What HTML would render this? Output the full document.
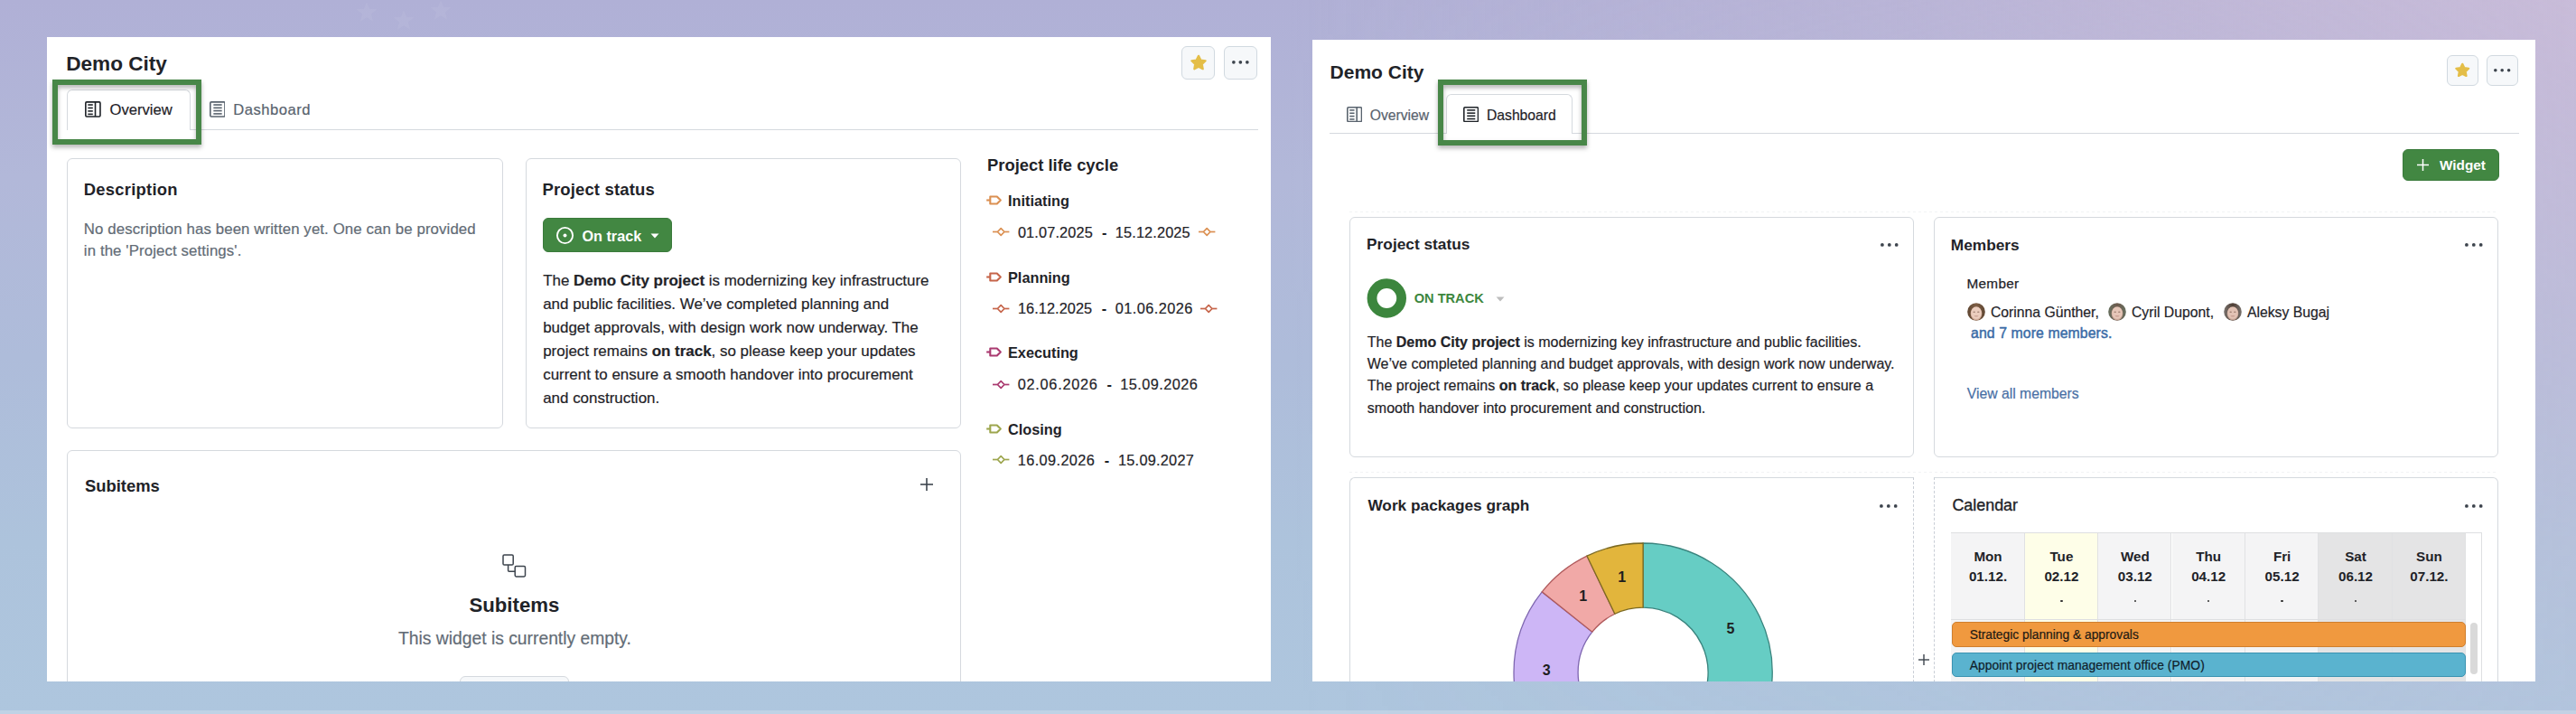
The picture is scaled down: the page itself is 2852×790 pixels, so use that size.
<!DOCTYPE html>
<html><head><meta charset="utf-8"><title>Demo City</title>
<style>
html,body{margin:0;padding:0;}
body{width:2852px;height:790px;overflow:hidden;position:relative;font-family:"Liberation Sans",sans-serif;}
.r{position:absolute;}
.t{position:absolute;white-space:nowrap;font-family:"Liberation Sans",sans-serif;}
b{font-weight:700;}
</style></head><body>
<div class="r" style="left:0;top:0;width:2852px;height:790px;background:linear-gradient(180deg,rgb(176,176,214) 0%,rgb(178,184,217) 25%,rgb(174,188,218) 50%,rgb(173,195,220) 76%,rgb(174,198,222) 100%);"></div><div class="r" style="left:0;top:0;width:2852px;height:790px;background:linear-gradient(90deg,rgba(205,190,217,0) 50%,rgba(205,190,217,0.4) 74%,rgba(205,190,217,1) 100%);-webkit-mask-image:linear-gradient(180deg,rgba(0,0,0,0.83) 0%,rgba(0,0,0,0.6) 25%,rgba(0,0,0,0.28) 76%,rgba(0,0,0,0.15) 100%);"></div>
<svg class="r" style="left:394px;top:1.5999999999999996px;" width="24" height="24" viewBox="0 0 24 24"><polygon points="12.00,0.00 15.06,7.79 23.41,8.29 16.95,13.61 19.05,21.71 12.00,17.20 4.95,21.71 7.05,13.61 0.59,8.29 8.94,7.79" fill="#fff" opacity="0.06"/></svg>
<svg class="r" style="left:434.7px;top:11px;" width="24" height="24" viewBox="0 0 24 24"><polygon points="12.00,0.00 15.06,7.79 23.41,8.29 16.95,13.61 19.05,21.71 12.00,17.20 4.95,21.71 7.05,13.61 0.59,8.29 8.94,7.79" fill="#fff" opacity="0.06"/></svg>
<svg class="r" style="left:475.5px;top:0px;" width="24" height="24" viewBox="0 0 24 24"><polygon points="12.00,0.00 15.06,7.79 23.41,8.29 16.95,13.61 19.05,21.71 12.00,17.20 4.95,21.71 7.05,13.61 0.59,8.29 8.94,7.79" fill="#fff" opacity="0.06"/></svg>
<div class="r" style="left:52px;top:41px;width:1355px;height:713px;background:#fff;"></div>
<div class="t" style="left:73.20px;top:59.97px;font-size:22.6px;line-height:22.6px;font-weight:700;color:#1F2328;">Demo City</div>
<div class="r" style="left:1308px;top:51px;width:37px;height:37px;background:#F6F8FA;border:1px solid #D1D9E0;border-radius:6px;box-sizing:border-box;"></div>
<svg class="r" style="left:1317.5px;top:59.599999999999994px;" width="18" height="18" viewBox="0 0 18 18"><polygon points="9.00,1.80 11.35,6.56 16.61,7.33 12.80,11.04 13.70,16.27 9.00,13.80 4.30,16.27 5.20,11.04 1.39,7.33 6.65,6.56" fill="#E4BE48" stroke="#E4BE48" stroke-width="2.2" stroke-linejoin="round"/></svg>
<div class="r" style="left:1355px;top:51px;width:37px;height:37px;background:#F6F8FA;border:1px solid #D1D9E0;border-radius:6px;box-sizing:border-box;"></div>
<svg class="r" style="left:1363.15px;top:65.95px;" width="20.7" height="5.7" viewBox="0 0 20.7 5.7"><circle cx="2.85" cy="2.85" r="1.85" fill="#3D444D"/><circle cx="10.35" cy="2.85" r="1.85" fill="#3D444D"/><circle cx="17.85" cy="2.85" r="1.85" fill="#3D444D"/></svg>
<div class="r" style="left:211px;top:143px;width:1182px;height:1px;background:#D5D9DE;"></div>
<div class="r" style="left:74px;top:99px;width:137px;height:45px;background:#fff;border:1px solid #D5D9DE;border-bottom:none;border-radius:6px 6px 0 0;box-sizing:border-box;"></div>
<svg class="r" style="left:93.9px;top:112.3px;" width="17.8" height="17.8" viewBox="0 0 17.8 17.8"><g fill="none" stroke="#1F2328" stroke-width="1.45" transform="scale(1.1125)"><rect x="0.75" y="0.75" width="14.5" height="14.5" rx="1"/><line x1="10.35" y1="0.75" x2="10.35" y2="15.25"/><line x1="3" y1="3.6" x2="7.9" y2="3.6"/><line x1="3" y1="6.7" x2="7.9" y2="6.7"/><line x1="3" y1="9.8" x2="7.9" y2="9.8"/><line x1="3" y1="12.9" x2="7.9" y2="12.9"/></g></svg>
<div class="t" style="left:121.60px;top:114.05px;font-size:16.6px;line-height:16.6px;font-weight:400;color:#1F2328;-webkit-text-stroke:0.2px #1F2328;">Overview</div>
<svg class="r" style="left:231.6px;top:112.2px;" width="17.8" height="17.8" viewBox="0 0 17.8 17.8"><g fill="none" stroke="#59636E" stroke-width="1.45" transform="scale(1.1125)"><rect x="0.75" y="0.75" width="14.5" height="14.5" rx="1"/><line x1="3.9" y1="3.6" x2="12.3" y2="3.6"/><line x1="3.9" y1="6.6" x2="12.3" y2="6.6"/><line x1="3.9" y1="9.5" x2="12.3" y2="9.5"/><line x1="3.9" y1="12.5" x2="12.3" y2="12.5"/></g></svg>
<div class="t" style="left:258.30px;top:114.05px;font-size:16.6px;line-height:16.6px;font-weight:400;color:#59636E;-webkit-text-stroke:0.2px #59636E;letter-spacing:0.5px;">Dashboard</div>
<div class="r" style="left:58px;top:88px;width:165px;height:72px;box-sizing:border-box;border:6px solid #488748;filter:drop-shadow(0.5px 3px 2.5px rgba(0,0,0,0.3));"></div>
<div class="r" style="left:74px;top:175px;width:483px;height:299px;border:1px solid #D5D9DE;border-radius:6px;box-sizing:border-box;"></div>
<div class="t" style="left:92.80px;top:201.32px;font-size:18.4px;line-height:18.4px;font-weight:700;color:#1F2328;letter-spacing:0.25px;">Description</div>
<div class="t" style="left:92.80px;top:245.88px;font-size:16.8px;line-height:16.8px;font-weight:400;color:#636C76;-webkit-text-stroke:0.2px #636C76;letter-spacing:0.12px;">No description has been written yet. One can be provided</div>
<div class="t" style="left:92.80px;top:270.08px;font-size:16.8px;line-height:16.8px;font-weight:400;color:#636C76;-webkit-text-stroke:0.2px #636C76;letter-spacing:0.12px;">in the 'Project settings'.</div>
<div class="r" style="left:582px;top:175px;width:482px;height:299px;border:1px solid #D5D9DE;border-radius:6px;box-sizing:border-box;"></div>
<div class="t" style="left:600.40px;top:201.04px;font-size:18.5px;line-height:18.5px;font-weight:700;color:#1F2328;letter-spacing:0.15px;">Project status</div>
<div class="r" style="left:601px;top:241px;width:143px;height:38px;background:#428742;border:1px solid #3A7A3B;border-radius:6px;box-sizing:border-box;"></div>
<svg class="r" style="left:615px;top:250px;" width="21" height="21" viewBox="0 0 21 21"><circle cx="10.5" cy="10.5" r="8.6" fill="none" stroke="#fff" stroke-width="1.9"/><circle cx="10.5" cy="10.5" r="2" fill="#fff"/></svg>
<div class="t" style="left:644.50px;top:252.99px;font-size:16.2px;line-height:16.2px;font-weight:700;color:#fff;">On track</div>
<svg class="r" style="left:719.5px;top:257.5px;" width="10" height="6" viewBox="0 0 10 6"><path d="M0.5 0.5 L9.5 0.5 L5 5.5 Z" fill="#fff"/></svg>
<div class="t" style="left:601.20px;top:303.05px;font-size:16.95px;line-height:16.95px;font-weight:400;color:#1F2328;-webkit-text-stroke:0.2px #1F2328;">The <b>Demo City project</b> is modernizing key infrastructure</div>
<div class="t" style="left:601.20px;top:329.13px;font-size:16.95px;line-height:16.95px;font-weight:400;color:#1F2328;-webkit-text-stroke:0.2px #1F2328;">and public facilities. We’ve completed planning and</div>
<div class="t" style="left:601.20px;top:355.21px;font-size:16.95px;line-height:16.95px;font-weight:400;color:#1F2328;-webkit-text-stroke:0.2px #1F2328;">budget approvals, with design work now underway. The</div>
<div class="t" style="left:601.20px;top:381.29px;font-size:16.95px;line-height:16.95px;font-weight:400;color:#1F2328;-webkit-text-stroke:0.2px #1F2328;">project remains <b>on track</b>, so please keep your updates</div>
<div class="t" style="left:601.20px;top:407.37px;font-size:16.95px;line-height:16.95px;font-weight:400;color:#1F2328;-webkit-text-stroke:0.2px #1F2328;">current to ensure a smooth handover into procurement</div>
<div class="t" style="left:601.20px;top:433.45px;font-size:16.95px;line-height:16.95px;font-weight:400;color:#1F2328;-webkit-text-stroke:0.2px #1F2328;">and construction.</div>
<div class="t" style="left:1093.00px;top:173.82px;font-size:18.4px;line-height:18.4px;font-weight:700;color:#1F2328;">Project life cycle</div>
<svg class="r" style="left:1092.2px;top:216.2px;" width="20" height="11" viewBox="0 0 20 11"><g fill="none" stroke="#DB9052" stroke-width="2.1" stroke-linejoin="round"><line x1="0.2" y1="5.5" x2="4.3" y2="5.5"/><path d="M4.3 1.5 H11.8 L15.8 5.5 L11.8 9.5 H4.3 Z"/></g></svg>
<div class="t" style="left:1116.00px;top:214.20px;font-size:16.3px;line-height:16.3px;font-weight:700;color:#1F2328;">Initiating</div>
<svg class="r" style="left:1098.8px;top:251.40000000000003px;" width="19" height="11" viewBox="0 0 19 11"><g fill="none" stroke="#DB9052" stroke-width="1.7"><line x1="0" y1="5.5" x2="5.2" y2="5.5"/><line x1="13.2" y1="5.5" x2="18.4" y2="5.5"/><path d="M9.2 1.7 L13 5.5 L9.2 9.3 L5.4 5.5 Z" stroke-linejoin="round"/></g></svg>
<div class="t" style="left:1126.90px;top:248.80px;font-size:16.3px;line-height:16.3px;font-weight:400;color:#1F2328;-webkit-text-stroke:0.2px #1F2328;letter-spacing:0.15px;">01.07.2025</div>
<div class="t" style="left:1220.10px;top:248.80px;font-size:16.3px;line-height:16.3px;font-weight:700;color:#1F2328;">-</div>
<div class="t" style="left:1234.80px;top:248.80px;font-size:16.3px;line-height:16.3px;font-weight:400;color:#1F2328;-webkit-text-stroke:0.2px #1F2328;letter-spacing:0.15px;">15.12.2025</div>
<svg class="r" style="left:1326.6px;top:251.40000000000003px;" width="19" height="11" viewBox="0 0 19 11"><g fill="none" stroke="#DB9052" stroke-width="1.7"><line x1="0" y1="5.5" x2="5.2" y2="5.5"/><line x1="13.2" y1="5.5" x2="18.4" y2="5.5"/><path d="M9.2 1.7 L13 5.5 L9.2 9.3 L5.4 5.5 Z" stroke-linejoin="round"/></g></svg>
<svg class="r" style="left:1092.2px;top:300.9px;" width="20" height="11" viewBox="0 0 20 11"><g fill="none" stroke="#C6654A" stroke-width="2.1" stroke-linejoin="round"><line x1="0.2" y1="5.5" x2="4.3" y2="5.5"/><path d="M4.3 1.5 H11.8 L15.8 5.5 L11.8 9.5 H4.3 Z"/></g></svg>
<div class="t" style="left:1116.00px;top:298.90px;font-size:16.3px;line-height:16.3px;font-weight:700;color:#1F2328;">Planning</div>
<svg class="r" style="left:1098.8px;top:335.5px;" width="19" height="11" viewBox="0 0 19 11"><g fill="none" stroke="#C6654A" stroke-width="1.7"><line x1="0" y1="5.5" x2="5.2" y2="5.5"/><line x1="13.2" y1="5.5" x2="18.4" y2="5.5"/><path d="M9.2 1.7 L13 5.5 L9.2 9.3 L5.4 5.5 Z" stroke-linejoin="round"/></g></svg>
<div class="t" style="left:1126.90px;top:332.90px;font-size:16.3px;line-height:16.3px;font-weight:400;color:#1F2328;-webkit-text-stroke:0.2px #1F2328;letter-spacing:0.08px;">16.12.2025</div>
<div class="t" style="left:1219.80px;top:332.90px;font-size:16.3px;line-height:16.3px;font-weight:700;color:#1F2328;">-</div>
<div class="t" style="left:1234.80px;top:332.90px;font-size:16.3px;line-height:16.3px;font-weight:400;color:#1F2328;-webkit-text-stroke:0.2px #1F2328;letter-spacing:0.45px;">01.06.2026</div>
<svg class="r" style="left:1329.4px;top:335.5px;" width="19" height="11" viewBox="0 0 19 11"><g fill="none" stroke="#C6654A" stroke-width="1.7"><line x1="0" y1="5.5" x2="5.2" y2="5.5"/><line x1="13.2" y1="5.5" x2="18.4" y2="5.5"/><path d="M9.2 1.7 L13 5.5 L9.2 9.3 L5.4 5.5 Z" stroke-linejoin="round"/></g></svg>
<svg class="r" style="left:1092.2px;top:384.4px;" width="20" height="11" viewBox="0 0 20 11"><g fill="none" stroke="#AA3A70" stroke-width="2.1" stroke-linejoin="round"><line x1="0.2" y1="5.5" x2="4.3" y2="5.5"/><path d="M4.3 1.5 H11.8 L15.8 5.5 L11.8 9.5 H4.3 Z"/></g></svg>
<div class="t" style="left:1116.00px;top:382.40px;font-size:16.3px;line-height:16.3px;font-weight:700;color:#1F2328;">Executing</div>
<svg class="r" style="left:1098.8px;top:419.6px;" width="19" height="11" viewBox="0 0 19 11"><g fill="none" stroke="#AA3A70" stroke-width="1.7"><line x1="0" y1="5.5" x2="5.2" y2="5.5"/><line x1="13.2" y1="5.5" x2="18.4" y2="5.5"/><path d="M9.2 1.7 L13 5.5 L9.2 9.3 L5.4 5.5 Z" stroke-linejoin="round"/></g></svg>
<div class="t" style="left:1126.80px;top:417.00px;font-size:16.3px;line-height:16.3px;font-weight:400;color:#1F2328;-webkit-text-stroke:0.2px #1F2328;letter-spacing:0.72px;">02.06.2026</div>
<div class="t" style="left:1225.40px;top:417.00px;font-size:16.3px;line-height:16.3px;font-weight:700;color:#1F2328;">-</div>
<div class="t" style="left:1240.20px;top:417.00px;font-size:16.3px;line-height:16.3px;font-weight:400;color:#1F2328;-webkit-text-stroke:0.2px #1F2328;letter-spacing:0.45px;">15.09.2026</div>
<svg class="r" style="left:1092.2px;top:468.5px;" width="20" height="11" viewBox="0 0 20 11"><g fill="none" stroke="#9DA64E" stroke-width="2.1" stroke-linejoin="round"><line x1="0.2" y1="5.5" x2="4.3" y2="5.5"/><path d="M4.3 1.5 H11.8 L15.8 5.5 L11.8 9.5 H4.3 Z"/></g></svg>
<div class="t" style="left:1116.00px;top:466.50px;font-size:16.3px;line-height:16.3px;font-weight:700;color:#1F2328;">Closing</div>
<svg class="r" style="left:1098.8px;top:503.1px;" width="19" height="11" viewBox="0 0 19 11"><g fill="none" stroke="#9DA64E" stroke-width="1.7"><line x1="0" y1="5.5" x2="5.2" y2="5.5"/><line x1="13.2" y1="5.5" x2="18.4" y2="5.5"/><path d="M9.2 1.7 L13 5.5 L9.2 9.3 L5.4 5.5 Z" stroke-linejoin="round"/></g></svg>
<div class="t" style="left:1126.80px;top:500.50px;font-size:16.3px;line-height:16.3px;font-weight:400;color:#1F2328;-webkit-text-stroke:0.2px #1F2328;letter-spacing:0.39px;">16.09.2026</div>
<div class="t" style="left:1222.70px;top:500.50px;font-size:16.3px;line-height:16.3px;font-weight:700;color:#1F2328;">-</div>
<div class="t" style="left:1238.00px;top:500.50px;font-size:16.3px;line-height:16.3px;font-weight:400;color:#1F2328;-webkit-text-stroke:0.2px #1F2328;letter-spacing:0.25px;">15.09.2027</div>
<div class="r" style="left:74px;top:498px;width:990px;height:272px;border:1px solid #D5D9DE;border-radius:6px;box-sizing:border-box;"></div>
<div class="t" style="left:94.00px;top:529.12px;font-size:18.4px;line-height:18.4px;font-weight:700;color:#1F2328;">Subitems</div>
<svg class="r" style="left:1018.8px;top:529.0px;" width="14" height="14" viewBox="0 0 14 14"><g stroke="#3D444D" stroke-width="1.6"><line x1="7.0" y1="0" x2="7.0" y2="14"/><line x1="0" y1="7.0" x2="14" y2="7.0"/></g></svg>
<svg class="r" style="left:556px;top:612.5px;" width="27" height="26" viewBox="0 0 27 26"><g fill="none" stroke="#3D444D" stroke-width="1.5"><rect x="1" y="0.9" width="11.2" height="11.2" rx="1.3"/><rect x="14.2" y="13.6" width="11.3" height="11.3" rx="1.3"/><path d="M6.6 12.1 V18.2 Q6.6 19.2 7.6 19.2 H14.2"/></g></svg>
<div class="t" style="left:419.40px;top:659.41px;font-size:22.2px;line-height:22.2px;font-weight:700;color:#1F2328;width:300px;text-align:center;">Subitems</div>
<div class="t" style="left:370.00px;top:697.16px;font-size:19.3px;line-height:19.3px;font-weight:400;color:#636C76;-webkit-text-stroke:0.2px #636C76;width:400px;text-align:center;">This widget is currently empty.</div>
<div class="r" style="left:509px;top:748px;width:121px;height:22px;background:#F6F8FA;border:1px solid #D5D9DE;border-radius:6px;box-sizing:border-box;"></div>
<div class="r" style="left:1453px;top:44px;width:1354px;height:710px;background:#fff;"></div>
<div class="t" style="left:1472.60px;top:69.22px;font-size:21px;line-height:21px;font-weight:700;color:#1F2328;">Demo City</div>
<div class="r" style="left:2709px;top:61px;width:35px;height:34px;background:#F6F8FA;border:1px solid #D1D9E0;border-radius:6px;box-sizing:border-box;"></div>
<svg class="r" style="left:2718.25px;top:68.85px;" width="16.5" height="16.5" viewBox="0 0 16.5 16.5"><polygon points="8.25,1.80 10.38,6.12 15.15,6.81 11.70,10.17 12.51,14.92 8.25,12.68 3.99,14.92 4.80,10.17 1.35,6.81 6.12,6.12" fill="#E4BE48" stroke="#E4BE48" stroke-width="2.2" stroke-linejoin="round"/></svg>
<div class="r" style="left:2753px;top:61px;width:35px;height:34px;background:#F6F8FA;border:1px solid #D1D9E0;border-radius:6px;box-sizing:border-box;"></div>
<svg class="r" style="left:2760.3px;top:74.5px;" width="20.400000000000002" height="5.6" viewBox="0 0 20.400000000000002 5.6"><circle cx="2.8" cy="2.8" r="1.8" fill="#3D444D"/><circle cx="10.2" cy="2.8" r="1.8" fill="#3D444D"/><circle cx="17.6" cy="2.8" r="1.8" fill="#3D444D"/></svg>
<div class="r" style="left:1472px;top:147px;width:1317px;height:1px;background:#D5D9DE;"></div>
<div class="r" style="left:1601px;top:104px;width:140px;height:44px;background:#fff;border:1px solid #D5D9DE;border-bottom:none;border-radius:6px 6px 0 0;box-sizing:border-box;"></div>
<svg class="r" style="left:1490.5px;top:117.8px;" width="17.3" height="17.3" viewBox="0 0 17.3 17.3"><g fill="none" stroke="#59636E" stroke-width="1.45" transform="scale(1.08125)"><rect x="0.75" y="0.75" width="14.5" height="14.5" rx="1"/><line x1="10.35" y1="0.75" x2="10.35" y2="15.25"/><line x1="3" y1="3.6" x2="7.9" y2="3.6"/><line x1="3" y1="6.7" x2="7.9" y2="6.7"/><line x1="3" y1="9.8" x2="7.9" y2="9.8"/><line x1="3" y1="12.9" x2="7.9" y2="12.9"/></g></svg>
<div class="t" style="left:1516.70px;top:119.71px;font-size:15.7px;line-height:15.7px;font-weight:400;color:#59636E;-webkit-text-stroke:0.2px #59636E;">Overview</div>
<svg class="r" style="left:1619.8px;top:118px;" width="17.3" height="17.3" viewBox="0 0 17.3 17.3"><g fill="none" stroke="#1F2328" stroke-width="1.45" transform="scale(1.08125)"><rect x="0.75" y="0.75" width="14.5" height="14.5" rx="1"/><line x1="3.9" y1="3.6" x2="12.3" y2="3.6"/><line x1="3.9" y1="6.6" x2="12.3" y2="6.6"/><line x1="3.9" y1="9.5" x2="12.3" y2="9.5"/><line x1="3.9" y1="12.5" x2="12.3" y2="12.5"/></g></svg>
<div class="t" style="left:1646.00px;top:119.71px;font-size:15.7px;line-height:15.7px;font-weight:400;color:#1F2328;-webkit-text-stroke:0.2px #1F2328;">Dashboard</div>
<div class="r" style="left:1592px;top:88px;width:165px;height:73px;box-sizing:border-box;border:6px solid #488748;filter:drop-shadow(0.5px 3px 2.5px rgba(0,0,0,0.3));"></div>
<div class="r" style="left:2660px;top:165px;width:107px;height:35px;background:#428742;border:1px solid #3A7A3B;border-radius:6px;box-sizing:border-box;"></div>
<svg class="r" style="left:2675.5px;top:176.0px;" width="13" height="13" viewBox="0 0 13 13"><g stroke="#fff" stroke-width="1.5"><line x1="6.5" y1="0" x2="6.5" y2="13"/><line x1="0" y1="6.5" x2="13" y2="6.5"/></g></svg>
<div class="t" style="left:2701.00px;top:174.85px;font-size:15.3px;line-height:15.3px;font-weight:700;color:#fff;">Widget</div>
<div class="r" style="left:1494px;top:233.5px;width:1272px;height:1.0px;background:repeating-linear-gradient(90deg,#F2F3F4 0 3px,transparent 3px 6px);"></div>
<div class="r" style="left:1494px;top:521.5px;width:1272px;height:1.0px;background:repeating-linear-gradient(90deg,#F2F3F4 0 3px,transparent 3px 6px);"></div>
<div class="r" style="left:1494px;top:240px;width:625px;height:266px;border:1px solid #D5D9DE;border-radius:6px;box-sizing:border-box;"></div>
<div class="t" style="left:1513.10px;top:262.46px;font-size:17.3px;line-height:17.3px;font-weight:700;color:#1F2328;">Project status</div>
<svg class="r" style="left:2080.5px;top:268.3px;" width="21.6" height="5.8" viewBox="0 0 21.6 5.8"><circle cx="2.9" cy="2.9" r="1.9" fill="#3D444D"/><circle cx="10.8" cy="2.9" r="1.9" fill="#3D444D"/><circle cx="18.7" cy="2.9" r="1.9" fill="#3D444D"/></svg>
<svg class="r" style="left:1513px;top:308px;" width="45" height="45" viewBox="0 0 45 45"><circle cx="22.3" cy="22" r="16.3" fill="none" stroke="#3C863D" stroke-width="10.8"/></svg>
<div class="t" style="left:1565.70px;top:322.64px;font-size:14.6px;line-height:14.6px;font-weight:700;color:#3C863D;">ON TRACK</div>
<svg class="r" style="left:1656px;top:327.5px;" width="10" height="6" viewBox="0 0 10 6"><path d="M0.5 0.5 L9.5 0.5 L5 5.5 Z" fill="#BDBDBD"/></svg>
<div class="t" style="left:1513.80px;top:370.86px;font-size:16px;line-height:16px;font-weight:400;color:#1F2328;-webkit-text-stroke:0.2px #1F2328;">The <b>Demo City project</b> is modernizing key infrastructure and public facilities.</div>
<div class="t" style="left:1513.80px;top:395.09px;font-size:16px;line-height:16px;font-weight:400;color:#1F2328;-webkit-text-stroke:0.2px #1F2328;">We’ve completed planning and budget approvals, with design work now underway.</div>
<div class="t" style="left:1513.80px;top:419.32px;font-size:16px;line-height:16px;font-weight:400;color:#1F2328;-webkit-text-stroke:0.2px #1F2328;">The project remains <b>on track</b>, so please keep your updates current to ensure a</div>
<div class="t" style="left:1513.80px;top:443.55px;font-size:16px;line-height:16px;font-weight:400;color:#1F2328;-webkit-text-stroke:0.2px #1F2328;">smooth handover into procurement and construction.</div>
<div class="r" style="left:2141px;top:240px;width:625px;height:266px;border:1px solid #D5D9DE;border-radius:6px;box-sizing:border-box;"></div>
<div class="t" style="left:2159.80px;top:262.96px;font-size:17.3px;line-height:17.3px;font-weight:700;color:#1F2328;">Members</div>
<svg class="r" style="left:2728.2px;top:268.3px;" width="21.6" height="5.8" viewBox="0 0 21.6 5.8"><circle cx="2.9" cy="2.9" r="1.9" fill="#3D444D"/><circle cx="10.8" cy="2.9" r="1.9" fill="#3D444D"/><circle cx="18.7" cy="2.9" r="1.9" fill="#3D444D"/></svg>
<div class="t" style="left:2177.50px;top:305.55px;font-size:15.3px;line-height:15.3px;font-weight:400;color:#1F2328;letter-spacing:0.3px;-webkit-text-stroke:0.25px #1F2328;">Member</div>
<svg class="r" style="left:2178.2px;top:335px;" width="20" height="20" viewBox="0 0 20 20"><defs><clipPath id="c2178"><circle cx="10" cy="10" r="9.8"/></clipPath><radialGradient id="g2178" cx="50%" cy="45%" r="55%"><stop offset="0%" stop-color="#EBCDBE"/><stop offset="75%" stop-color="#EBCDBE"/><stop offset="100%" stop-color="#C49A86"/></radialGradient><linearGradient id="h2178" x1="0" y1="0" x2="1" y2="0"><stop offset="0%" stop-color="#5E4632"/><stop offset="50%" stop-color="#7E5E45"/><stop offset="100%" stop-color="#5E4632"/></linearGradient></defs><g clip-path="url(#c2178)"><rect width="20" height="20" fill="url(#h2178)"/><ellipse cx="10" cy="11.8" rx="6.3" ry="7.6" fill="url(#g2178)"/><ellipse cx="7.7" cy="10.3" rx="1.3" ry="0.7" fill="#6B4A3E" opacity="0.55"/><ellipse cx="12.3" cy="10.3" rx="1.3" ry="0.7" fill="#6B4A3E" opacity="0.55"/><ellipse cx="10" cy="14.8" rx="2.6" ry="0.8" fill="#A87468" opacity="0.45"/></g></svg>
<div class="t" style="left:2203.90px;top:338.37px;font-size:15.75px;line-height:15.75px;font-weight:400;color:#1F2328;-webkit-text-stroke:0.2px #1F2328;">Corinna Günther,</div>
<svg class="r" style="left:2334.1px;top:335px;" width="20" height="20" viewBox="0 0 20 20"><defs><clipPath id="c2334"><circle cx="10" cy="10" r="9.8"/></clipPath><radialGradient id="g2334" cx="50%" cy="45%" r="55%"><stop offset="0%" stop-color="#E6C6B8"/><stop offset="75%" stop-color="#E6C6B8"/><stop offset="100%" stop-color="#B89484"/></radialGradient><linearGradient id="h2334" x1="0" y1="0" x2="1" y2="0"><stop offset="0%" stop-color="#66705F"/><stop offset="50%" stop-color="#6E5A4E"/><stop offset="100%" stop-color="#66705F"/></linearGradient></defs><g clip-path="url(#c2334)"><rect width="20" height="20" fill="url(#h2334)"/><ellipse cx="10" cy="11.8" rx="6.3" ry="7.6" fill="url(#g2334)"/><ellipse cx="7.7" cy="10.3" rx="1.3" ry="0.7" fill="#6B4A3E" opacity="0.55"/><ellipse cx="12.3" cy="10.3" rx="1.3" ry="0.7" fill="#6B4A3E" opacity="0.55"/><ellipse cx="10" cy="14.8" rx="2.6" ry="0.8" fill="#A87468" opacity="0.45"/></g></svg>
<div class="t" style="left:2360.00px;top:338.37px;font-size:15.75px;line-height:15.75px;font-weight:400;color:#1F2328;-webkit-text-stroke:0.2px #1F2328;">Cyril Dupont,</div>
<svg class="r" style="left:2461.8px;top:335px;" width="20" height="20" viewBox="0 0 20 20"><defs><clipPath id="c2461"><circle cx="10" cy="10" r="9.8"/></clipPath><radialGradient id="g2461" cx="50%" cy="45%" r="55%"><stop offset="0%" stop-color="#E2C2B4"/><stop offset="75%" stop-color="#E2C2B4"/><stop offset="100%" stop-color="#B08E80"/></radialGradient><linearGradient id="h2461" x1="0" y1="0" x2="1" y2="0"><stop offset="0%" stop-color="#7A7470"/><stop offset="50%" stop-color="#4E3E34"/><stop offset="100%" stop-color="#7A7470"/></linearGradient></defs><g clip-path="url(#c2461)"><rect width="20" height="20" fill="url(#h2461)"/><ellipse cx="10" cy="11.8" rx="6.3" ry="7.6" fill="url(#g2461)"/><ellipse cx="7.7" cy="10.3" rx="1.3" ry="0.7" fill="#6B4A3E" opacity="0.55"/><ellipse cx="12.3" cy="10.3" rx="1.3" ry="0.7" fill="#6B4A3E" opacity="0.55"/><ellipse cx="10" cy="14.8" rx="2.6" ry="0.8" fill="#A87468" opacity="0.45"/></g></svg>
<div class="t" style="left:2487.90px;top:338.37px;font-size:15.75px;line-height:15.75px;font-weight:400;color:#1F2328;-webkit-text-stroke:0.2px #1F2328;">Aleksy Bugaj</div>
<div class="t" style="left:2182.00px;top:361.43px;font-size:15.8px;line-height:15.8px;font-weight:400;color:#3A6BA6;letter-spacing:0.1px;-webkit-text-stroke:0.45px #3A6BA6;">and 7 more members.</div>
<div class="t" style="left:2177.70px;top:428.17px;font-size:15.75px;line-height:15.75px;font-weight:400;color:#4A70A5;-webkit-text-stroke:0.2px #4A70A5;">View all members</div>
<div class="r" style="left:1494px;top:528px;width:625px;height:262px;border:1px solid #D5D9DE;border-right:1px dashed #C9CED6;border-radius:6px 0 0 0;box-sizing:border-box;"></div>
<div class="t" style="left:1514.40px;top:551.40px;font-size:17.25px;line-height:17.25px;font-weight:700;color:#1F2328;">Work packages graph</div>
<svg class="r" style="left:2080.3999999999996px;top:556.9px;" width="21.6" height="5.8" viewBox="0 0 21.6 5.8"><circle cx="2.9" cy="2.9" r="1.9" fill="#3D444D"/><circle cx="10.8" cy="2.9" r="1.9" fill="#3D444D"/><circle cx="18.7" cy="2.9" r="1.9" fill="#3D444D"/></svg>
<div class="r" style="left:1494px;top:528px;width:625px;height:226px;overflow:hidden;"><svg style="position:absolute;left:180.10px;top:70.70px" width="290.2" height="290.2"><path d="M145.10 2.00 A143.1 143.1 0 0 1 256.98 234.32 L201.39 189.99 A72.0 72.0 0 0 0 145.10 73.10 Z" fill="#66CDC4" stroke="#3A847E" stroke-width="1.3"/><path d="M256.98 234.32 A143.1 143.1 0 0 1 33.22 234.32 L88.81 189.99 A72.0 72.0 0 0 0 201.39 189.99 Z" fill="#E8A87C" stroke="#A8704A" stroke-width="1.3"/><path d="M33.22 234.32 A143.1 143.1 0 0 1 33.22 55.88 L88.81 100.21 A72.0 72.0 0 0 0 88.81 189.99 Z" fill="#CDB6F6" stroke="#7E66B0" stroke-width="1.3"/><path d="M33.22 55.88 A143.1 143.1 0 0 1 83.01 16.17 L113.86 80.23 A72.0 72.0 0 0 0 88.81 100.21 Z" fill="#F1A9A7" stroke="#B05A5C" stroke-width="1.3"/><path d="M83.01 16.17 A143.1 143.1 0 0 1 145.10 2.00 L145.10 73.10 A72.0 72.0 0 0 0 113.86 80.23 Z" fill="#E2B53C" stroke="#7C6A22" stroke-width="1.3"/><text x="241.9" y="102.4" text-anchor="middle" font-family="Liberation Sans" font-weight="700" font-size="16" fill="#1E1E1E">5</text><text x="121.6" y="45.4" text-anchor="middle" font-family="Liberation Sans" font-weight="700" font-size="16" fill="#1E1E1E">1</text><text x="78.8" y="65.6" text-anchor="middle" font-family="Liberation Sans" font-weight="700" font-size="16" fill="#1E1E1E">1</text><text x="38.3" y="148.1" text-anchor="middle" font-family="Liberation Sans" font-weight="700" font-size="16" fill="#1E1E1E">3</text></svg></div>
<svg class="r" style="left:2123.6px;top:723.9px;" width="12" height="12" viewBox="0 0 12 12"><g stroke="#3D444D" stroke-width="1.4"><line x1="6.0" y1="0" x2="6.0" y2="12"/><line x1="0" y1="6.0" x2="12" y2="6.0"/></g></svg>
<div class="r" style="left:2141px;top:528px;width:625px;height:262px;border:1px solid #D5D9DE;border-left:1px dashed #C9CED6;border-radius:0 6px 0 0;box-sizing:border-box;"></div>
<div class="t" style="left:2161.40px;top:551.25px;font-size:17.9px;line-height:17.9px;font-weight:400;color:#1F2328;-webkit-text-stroke:0.35px #1F2328;">Calendar</div>
<svg class="r" style="left:2727.7999999999997px;top:556.9px;" width="21.6" height="5.8" viewBox="0 0 21.6 5.8"><circle cx="2.9" cy="2.9" r="1.9" fill="#3D444D"/><circle cx="10.8" cy="2.9" r="1.9" fill="#3D444D"/><circle cx="18.7" cy="2.9" r="1.9" fill="#3D444D"/></svg>
<div class="r" style="left:2160px;top:589px;width:588px;height:201px;border:1px solid #DEDFE1;box-sizing:border-box;background:#fff;"></div>
<div class="r" style="left:2160.3px;top:590px;width:81.39999999999964px;height:164px;background:#F4F4F5;border-right:1px solid #E0E1E3;box-sizing:border-box;"></div>
<div class="t" style="left:2161.00px;top:607.53px;font-size:15.2px;line-height:15.2px;font-weight:700;color:#1F2328;width:80px;text-align:center;">Mon</div>
<div class="t" style="left:2161.00px;top:630.33px;font-size:15.2px;line-height:15.2px;font-weight:700;color:#1F2328;width:80px;text-align:center;">01.12.</div>
<div class="r" style="left:2241.7px;top:590px;width:81.40000000000009px;height:164px;background:#FEFEE8;border-right:1px solid #E0E1E3;box-sizing:border-box;"></div>
<div class="t" style="left:2242.40px;top:607.53px;font-size:15.2px;line-height:15.2px;font-weight:700;color:#1F2328;width:80px;text-align:center;">Tue</div>
<div class="t" style="left:2242.40px;top:630.33px;font-size:15.2px;line-height:15.2px;font-weight:700;color:#1F2328;width:80px;text-align:center;">02.12</div>
<div class="r" style="left:2281.2px;top:663.5px;width:2.400000000000091px;height:2.5px;background:#333;border-radius:50%;"></div>
<div class="r" style="left:2323.1px;top:590px;width:81.40000000000009px;height:164px;background:#F4F4F5;border-right:1px solid #E0E1E3;box-sizing:border-box;"></div>
<div class="t" style="left:2323.80px;top:607.53px;font-size:15.2px;line-height:15.2px;font-weight:700;color:#1F2328;width:80px;text-align:center;">Wed</div>
<div class="t" style="left:2323.80px;top:630.33px;font-size:15.2px;line-height:15.2px;font-weight:700;color:#1F2328;width:80px;text-align:center;">03.12</div>
<div class="r" style="left:2362.6px;top:663.5px;width:2.400000000000091px;height:2.5px;background:#333;border-radius:50%;"></div>
<div class="r" style="left:2404.5px;top:590px;width:81.40000000000009px;height:164px;background:#F4F4F5;border-right:1px solid #E0E1E3;box-sizing:border-box;"></div>
<div class="t" style="left:2405.20px;top:607.53px;font-size:15.2px;line-height:15.2px;font-weight:700;color:#1F2328;width:80px;text-align:center;">Thu</div>
<div class="t" style="left:2405.20px;top:630.33px;font-size:15.2px;line-height:15.2px;font-weight:700;color:#1F2328;width:80px;text-align:center;">04.12</div>
<div class="r" style="left:2444.0px;top:663.5px;width:2.400000000000091px;height:2.5px;background:#333;border-radius:50%;"></div>
<div class="r" style="left:2485.9px;top:590px;width:81.40000000000009px;height:164px;background:#F4F4F5;border-right:1px solid #E0E1E3;box-sizing:border-box;"></div>
<div class="t" style="left:2486.60px;top:607.53px;font-size:15.2px;line-height:15.2px;font-weight:700;color:#1F2328;width:80px;text-align:center;">Fri</div>
<div class="t" style="left:2486.60px;top:630.33px;font-size:15.2px;line-height:15.2px;font-weight:700;color:#1F2328;width:80px;text-align:center;">05.12</div>
<div class="r" style="left:2525.4px;top:663.5px;width:2.400000000000091px;height:2.5px;background:#333;border-radius:50%;"></div>
<div class="r" style="left:2567.3px;top:590px;width:81.39999999999964px;height:164px;background:#E4E4E5;border-right:1px solid #E0E1E3;box-sizing:border-box;"></div>
<div class="t" style="left:2568.00px;top:607.53px;font-size:15.2px;line-height:15.2px;font-weight:700;color:#1F2328;width:80px;text-align:center;">Sat</div>
<div class="t" style="left:2568.00px;top:630.33px;font-size:15.2px;line-height:15.2px;font-weight:700;color:#1F2328;width:80px;text-align:center;">06.12</div>
<div class="r" style="left:2606.8px;top:663.5px;width:2.399999999999636px;height:2.5px;background:#333;border-radius:50%;"></div>
<div class="r" style="left:2648.7px;top:590px;width:81.40000000000009px;height:164px;background:#E4E4E5;border-right:1px solid #E0E1E3;box-sizing:border-box;"></div>
<div class="t" style="left:2649.40px;top:607.53px;font-size:15.2px;line-height:15.2px;font-weight:700;color:#1F2328;width:80px;text-align:center;">Sun</div>
<div class="t" style="left:2649.40px;top:630.33px;font-size:15.2px;line-height:15.2px;font-weight:700;color:#1F2328;width:80px;text-align:center;">07.12.</div>
<div class="r" style="left:2160px;top:685px;width:570px;height:1px;background:#DEDFE1;"></div>
<div class="r" style="left:2735px;top:689px;width:8px;height:57px;background:#D9D9D9;border-radius:4px;"></div>
<div class="r" style="left:2160.5px;top:688.3px;width:569.3000000000002px;height:27.300000000000068px;background:#F0993F;border:1px solid #CF7F2E;border-radius:5px;box-sizing:border-box;"></div>
<div class="t" style="left:2180.70px;top:696.32px;font-size:13.8px;line-height:13.8px;font-weight:400;color:#1F1A14;-webkit-text-stroke:0.2px #1F1A14;">Strategic planning &amp; approvals</div>
<div class="r" style="left:2160.5px;top:722px;width:569.3000000000002px;height:27.399999999999977px;background:#5AB3CF;border:1px solid #3B93B1;border-radius:5px;box-sizing:border-box;"></div>
<div class="t" style="left:2180.70px;top:729.72px;font-size:13.8px;line-height:13.8px;font-weight:400;color:#10202A;-webkit-text-stroke:0.2px #10202A;letter-spacing:0.07px;">Appoint project management office (PMO)</div>
<div class="r" style="left:0;top:754px;width:2852px;height:36px;overflow:hidden;"><div class="r" style="left:0;top:-754px;width:2852px;height:790px;background:linear-gradient(180deg,rgb(176,176,214) 0%,rgb(178,184,217) 25%,rgb(174,188,218) 50%,rgb(173,195,220) 76%,rgb(174,198,222) 100%);"></div><div class="r" style="left:0;top:-754px;width:2852px;height:790px;background:linear-gradient(90deg,rgba(205,190,217,0) 50%,rgba(205,190,217,0.4) 74%,rgba(205,190,217,1) 100%);-webkit-mask-image:linear-gradient(180deg,rgba(0,0,0,0.83) 0%,rgba(0,0,0,0.6) 25%,rgba(0,0,0,0.28) 76%,rgba(0,0,0,0.15) 100%);"></div></div>
<div class="r" style="left:0px;top:786px;width:2852px;height:4px;background:rgba(255,255,255,0.22);"></div>
</body></html>
